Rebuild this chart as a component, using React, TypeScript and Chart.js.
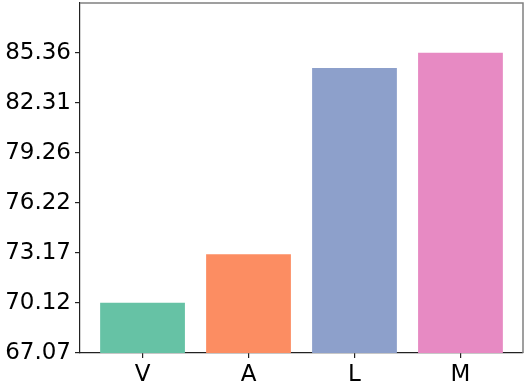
import React, { useEffect, useRef } from "react";
import { Chart, registerables } from "chart.js";

Chart.register(...registerables);

const categories = ["V", "A", "L", "M"];
const values = [70.13, 73.08, 84.43, 85.36];
const colors = ["#66c2a5", "#fc8d62", "#8da0cb", "#e78ac3"];
const yTickValues = [67.07, 70.12, 73.17, 76.22, 79.26, 82.31, 85.36];
const yTickLabels = ["67.07", "70.12", "73.17", "76.22", "79.26", "82.31", "85.36"];
const yMin = 67.07;
const yMax = 88.39;

const spinePlugin = {
  id: "spines",
  afterDraw(chart: any) {
    const { ctx, chartArea } = chart;
    ctx.save();
    ctx.strokeStyle = "#808080";
    ctx.lineWidth = 1.5;
    ctx.beginPath();
    ctx.moveTo(chartArea.left, chartArea.top);
    ctx.lineTo(chartArea.right, chartArea.top);
    ctx.lineTo(chartArea.right, chartArea.bottom);
    ctx.stroke();
    ctx.restore();
  },
};

export default function App() {
  const ref = useRef<HTMLCanvasElement | null>(null);
  useEffect(() => {
    document.body.style.margin = "0";
    if (!ref.current) return;
    const font = { family: "DejaVu Sans", size: 23 };
    const chart = new Chart(ref.current, {
      type: "bar",
      data: {
        datasets: [
          {
            data: categories.map((c, i) => ({ x: i, y: values[i] })),
            backgroundColor: colors,
            barPercentage: 1,
            categoryPercentage: 0.8,
          },
        ],
      },
      plugins: [spinePlugin],
      options: {
        animation: false,
        responsive: false,
        layout: { padding: { top: 3, right: 4, left: 0, bottom: 0 } },
        plugins: { legend: { display: false }, tooltip: { enabled: false } },
        scales: {
          x: {
            type: "linear",
            min: -0.59,
            max: 3.59,
            offset: false,
            afterBuildTicks: (scale: any) => {
              scale.ticks = categories.map((_, i) => ({ value: i }));
            },
            afterFit: (scale: any) => {
              scale.height = 34;
              scale.paddingLeft = 0;
              scale.paddingRight = 0;
            },
            ticks: {
              font,
              color: "#000",
              padding: 3,
              maxRotation: 0,
              autoSkip: false,
              callback: (v: any) => categories[v] ?? "",
            },
            grid: { display: true, offset: false, drawOnChartArea: false, tickLength: 5, color: "#222", lineWidth: 1.2 },
            border: { display: true, color: "#222", width: 1.2 },
          },
          y: {
            type: "linear",
            min: yMin,
            max: yMax,
            afterBuildTicks: (scale: any) => {
              scale.ticks = yTickValues.map((v) => ({ value: v }));
            },
            afterFit: (scale: any) => {
              scale.width = 80;
              scale.paddingTop = 0;
              scale.paddingBottom = 0;
            },
            ticks: {
              font,
              color: "#000",
              padding: 4,
              autoSkip: false,
              callback: (_v: any, i: number) => yTickLabels[i],
            },
            grid: { display: true, drawOnChartArea: false, tickLength: 5, color: "#222", lineWidth: 1.2 },
            border: { display: true, color: "#222", width: 1.2 },
          },
        },
      },
    } as any);
    return () => chart.destroy();
  }, []);
  return <canvas ref={ref} width={527} height={387} style={{ display: "block" }} />;
}
